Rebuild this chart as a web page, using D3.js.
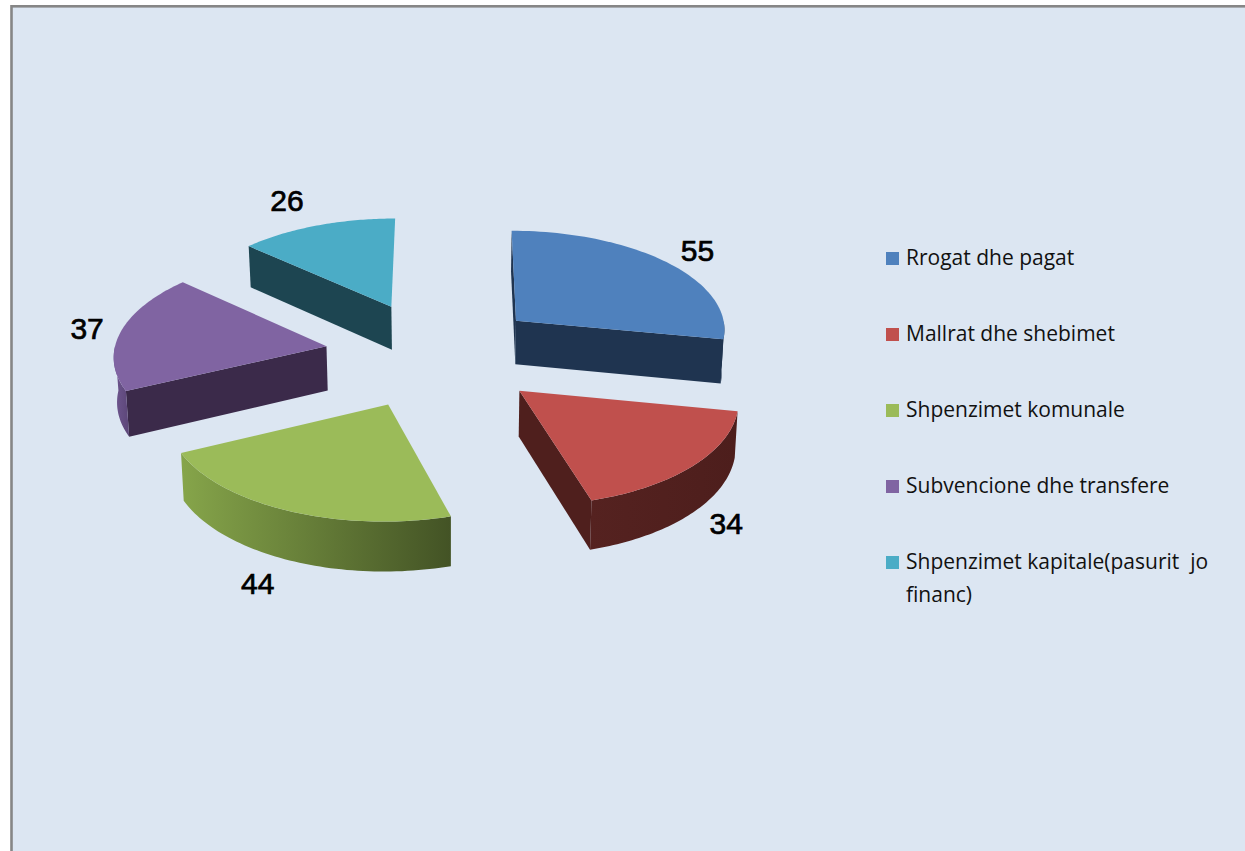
<!DOCTYPE html>
<html>
<head>
<meta charset="utf-8">
<style>
  html, body { margin: 0; padding: 0; background: #fff; overflow: hidden; }
  svg { display: block; }
</style>
<script src="https://cdn.jsdelivr.net/npm/d3@7"></script>
</head>
<body>
<div id="chart"></div>
<script>
const categories = ["Rrogat dhe pagat", "Mallrat dhe shebimet", "Shpenzimet komunale", "Subvencione dhe transfere", "Shpenzimet kapitale(pasurit  jo financ)"];
const values = [55, 34, 44, 37, 26];

const topColors = ["#4f81bd", "#c0504d", "#9bbb59", "#8064a2", "#4bacc6"];
const wallColors = ["#1f3450", "#4f1f1d", "#5d7330", "#3b2a4a", "#1d4551"];
const rimFrom = ["#1f3450", "#552220", "#86a54a", "#6f5790", "#1d4551"];
const rimTo = ["#1f3450", "#4d1e1c", "#435325", "#5c4678", "#1d4551"];

// label radius and angle nudge from each slice's middle
const labelRadius = [254, 298, 325, 247, 279];
const labelNudge = [1, 11, -5, 0, -2];
// small sideways correction per slice
const sliceNudge = [-2.5, 1, 0, 0, -1];

const width = 1245;
const height = 851;

// ground plane seen in perspective
const vanishX = 450;
const vanishY = -1050;
const camHeight = 1400;
const camDist = 2900;
const centerX = -15;
const centerZ = 8;
const radiusX = 212;
const radiusZ = 208;
const explode = 110;
const depth = 44.5;

function project(wx, wz) {
  const s = 1 / (1 - wz / camDist);
  return [vanishX + wx * s, vanishY + camHeight * s];
}

function drop(p) {
  const s = (p[1] - vanishY) / camHeight;
  return [p[0] + (vanishX - p[0]) * 0.01, p[1] + depth * s];
}

const svg = d3.select("#chart").append("svg")
  .attr("width", width)
  .attr("height", height);

const defs = svg.append("defs");

svg.append("rect")
  .attr("x", 11.5)
  .attr("y", 6.3)
  .attr("width", 1400)
  .attr("height", 1000)
  .attr("fill", "#dce6f2")
  .attr("stroke", "#868686")
  .attr("stroke-width", 2.6);

const arcs = d3.pie().sort(null)(values);
const line = d3.line();

arcs.forEach((d, i) => {
  const mid = (d.startAngle + d.endAngle) / 2;
  const apexX = centerX + sliceNudge[i] + explode * Math.sin(mid);
  const apexZ = centerZ - explode * Math.cos(mid);

  const onRim = a => project(apexX + radiusX * Math.sin(a), apexZ - radiusZ * Math.cos(a));
  const rimAt = (a0, a1) => d3.range(0, 61).map(k => onRim(a0 + (a1 - a0) * k / 60));

  const apex = project(apexX, apexZ);
  const rim = rimAt(d.startAngle, d.endAngle);
  const first = rim[0];
  const last = rim[rim.length - 1];

  const g = svg.append("g");

  // flat side walls, only the ones that face the viewer
  const walls = [];
  if (Math.sin(d.startAngle) <= 0) walls.push(first);
  if (Math.sin(d.endAngle) > 0) walls.push(last);
  walls.forEach(p => {
    g.append("path")
      .attr("d", line([apex, p, drop(p), drop(apex)]) + "Z")
      .attr("fill", wallColors[i]);
  });

  // curved outer wall, front half of the circle only
  const frontStart = Math.max(d.startAngle, Math.PI / 2);
  const frontEnd = Math.min(d.endAngle, 3 * Math.PI / 2);
  if (frontStart < frontEnd) {
    const grad = defs.append("linearGradient")
      .attr("id", "rim" + i);
    grad.append("stop").attr("offset", "0%").attr("stop-color", rimFrom[i]);
    grad.append("stop").attr("offset", "100%").attr("stop-color", rimTo[i]);

    const front = rimAt(frontStart, frontEnd);
    g.append("path")
      .attr("d", line(front.concat(front.map(drop).reverse())) + "Z")
      .attr("fill", `url(#rim${i})`);
  }

  // top face
  g.append("path")
    .attr("d", line([apex].concat(rim)) + "Z")
    .attr("fill", topColors[i]);

  const la = mid + labelNudge[i] * Math.PI / 180;
  const lp = project(apexX + labelRadius[i] * Math.sin(la), apexZ - labelRadius[i] * Math.cos(la));
  svg.append("text")
    .attr("x", lp[0])
    .attr("y", lp[1] - 1)
    .attr("dy", "0.36em")
    .attr("text-anchor", "middle")
    .style("font-family", "'Liberation Sans', Arial, sans-serif")
    .style("font-size", "30px")
    .style("fill", "#000")
    .style("stroke", "#000")
    .style("stroke-width", 0.7)
    .text(d.data);
});

// legend
const legendY = d3.scalePoint()
  .domain(categories)
  .range([258, 562]);

const legend = svg.selectAll(".legend")
  .data(categories)
  .enter()
  .append("g")
  .attr("class", "legend");

legend.append("rect")
  .attr("x", 886)
  .attr("y", d => legendY(d) - 6)
  .attr("width", 13)
  .attr("height", 13)
  .attr("fill", (d, i) => topColors[i]);

legend.each(function(d) {
  const g = d3.select(this);
  const parts = d.endsWith(" financ)") ? [d.slice(0, -7), "financ)"] : [d];
  parts.forEach((t, k) => {
    g.append("text")
      .attr("x", 906)
      .attr("y", legendY(d) + 7 + k * 33)
      .style("font-family", "'Open Sans', sans-serif")
      .style("font-size", "21px")
      .style("fill", "#111")
      .style("white-space", "pre")
      .text(t);
  });
});
</script>
</body>
</html>
